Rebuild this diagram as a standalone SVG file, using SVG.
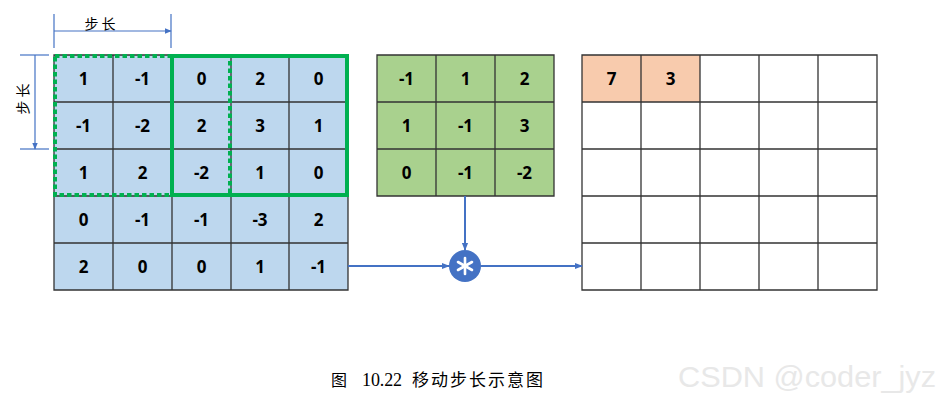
<svg xmlns="http://www.w3.org/2000/svg" width="950" height="403" viewBox="0 0 950 403">
<style>
.g{stroke:#333;stroke-width:1.3}
.n{font-family:"Open Sans",Lato,"Liberation Sans",sans-serif;font-weight:bold;font-size:17px;fill:#000;text-anchor:middle;dominant-baseline:central}
.c{stroke:#4472C4;stroke-width:2;fill:none}
.d{stroke:#4472C4;stroke-width:1.2;fill:none}
.cn{font-family:"Liberation Serif","Noto Sans CJK SC",serif;fill:#000}
.lb{font-family:"Noto Sans CJK SC",sans-serif;font-size:14px;fill:#000;text-anchor:middle}
</style>
<defs>
<marker id="ah" viewBox="0 0 10 10" refX="9" refY="5" markerWidth="8" markerHeight="8" markerUnits="userSpaceOnUse" orient="auto"><path d="M0,1 L10,5 L0,9 z" fill="#4472C4"/></marker>
<marker id="as" viewBox="0 0 10 10" refX="9" refY="5" markerWidth="7" markerHeight="7" markerUnits="userSpaceOnUse" orient="auto"><path d="M0,1 L10,5 L0,9 z" fill="#4472C4"/></marker>
</defs>
<rect width="950" height="403" fill="#fff"/>

<g id="input">
<rect x="54" y="55" width="294" height="235" fill="#BDD7EE"/>
<path class="g" fill="none" d="M54,55H348V290H54Z M113,55V290 M172,55V290 M231,55V290 M289,55V290 M54,102H348 M54,149H348 M54,196H348 M54,243H348"/>
<g class="n">
<text x="83.5" y="78.5">1</text><text x="142.5" y="78.5">-1</text><text x="201.5" y="78.5">0</text><text x="260" y="78.5">2</text><text x="318.5" y="78.5">0</text>
<text x="83.5" y="125.5">-1</text><text x="142.5" y="125.5">-2</text><text x="201.5" y="125.5">2</text><text x="260" y="125.5">3</text><text x="318.5" y="125.5">1</text>
<text x="83.5" y="172.5">1</text><text x="142.5" y="172.5">2</text><text x="201.5" y="172.5">-2</text><text x="260" y="172.5">1</text><text x="318.5" y="172.5">0</text>
<text x="83.5" y="219.5">0</text><text x="142.5" y="219.5">-1</text><text x="201.5" y="219.5">-1</text><text x="260" y="219.5">-3</text><text x="318.5" y="219.5">2</text>
<text x="83.5" y="266.5">2</text><text x="142.5" y="266.5">0</text><text x="201.5" y="266.5">0</text><text x="260" y="266.5">1</text><text x="318.5" y="266.5">-1</text>
</g>
</g>

<g id="window1">
<rect x="55" y="56" width="175" height="139" fill="none" stroke="#00B050" stroke-width="4" stroke-dasharray="4.5 3"/>
</g>
<g id="window2">
<rect x="172" y="56" width="175" height="139" fill="none" stroke="#00B050" stroke-width="4"/>
</g>

<g id="stride-h">
<line class="d" x1="54" y1="14" x2="54" y2="48" stroke="#A9BDE3"/>
<line class="d" x1="171" y1="14" x2="171" y2="48" stroke="#A9BDE3"/>
<line class="d" x1="54" y1="31" x2="171" y2="31" marker-end="url(#as)"/>
<text class="lb" x="100" y="29">步 长</text>
</g>
<g id="stride-v">
<line class="d" x1="20" y1="55" x2="49" y2="55"/>
<line class="d" x1="20" y1="149" x2="49" y2="149"/>
<line class="d" x1="35" y1="55" x2="35" y2="149" marker-end="url(#as)"/>
<text class="lb" x="0" y="0" transform="translate(28,99) rotate(-90)">步 长</text>
</g>

<g id="kernel">
<rect x="377" y="55" width="177" height="141" fill="#A9D18E"/>
<path class="g" fill="none" d="M377,55H554V196H377Z M436,55V196 M495,55V196 M377,102H554 M377,149H554"/>
<g class="n">
<text x="406.5" y="78.5">-1</text><text x="465.5" y="78.5">1</text><text x="524.5" y="78.5">2</text>
<text x="406.5" y="125.5">1</text><text x="465.5" y="125.5">-1</text><text x="524.5" y="125.5">3</text>
<text x="406.5" y="172.5">0</text><text x="465.5" y="172.5">-1</text><text x="524.5" y="172.5">-2</text>
</g>
</g>

<g id="output">
<rect x="582" y="55" width="118" height="47" fill="#F8CBAD"/>
<path class="g" fill="none" d="M582,55H877V290H582Z M641,55V290 M700,55V290 M759,55V290 M818,55V290 M582,102H877 M582,149H877 M582,196H877 M582,243H877"/>
<g class="n">
<text x="611.5" y="78.5">7</text><text x="670.5" y="78.5">3</text>
</g>
</g>

<g id="conv">
<circle cx="465" cy="266" r="16" fill="#4472C4"/>
<g stroke="#fff" stroke-width="2.6" stroke-linecap="round">
<line x1="465" y1="258" x2="465" y2="274"/>
<line x1="458" y1="262" x2="472" y2="270"/>
<line x1="458" y1="270" x2="472" y2="262"/>
</g>
</g>

<g id="connectors">
<line class="c" x1="465" y1="196" x2="465" y2="250" marker-end="url(#ah)"/>
<line class="c" x1="348" y1="266" x2="449" y2="266" marker-end="url(#ah)"/>
<line class="c" x1="481" y1="266" x2="582" y2="266" marker-end="url(#ah)"/>
</g>

<g id="caption">
<text class="cn" x="331" y="386" font-size="16">图</text>
<text class="cn" x="362" y="386" font-size="18" textLength="40">10.22</text>
<text class="cn" x="412" y="386" font-size="17" letter-spacing="2">移动步长示意图</text>
<text x="678" y="387" font-family="'Liberation Sans',Arial,sans-serif" font-size="29" fill="#E8E8E8" textLength="258" lengthAdjust="spacingAndGlyphs">CSDN @coder_jyz</text>
</g>
</svg>
